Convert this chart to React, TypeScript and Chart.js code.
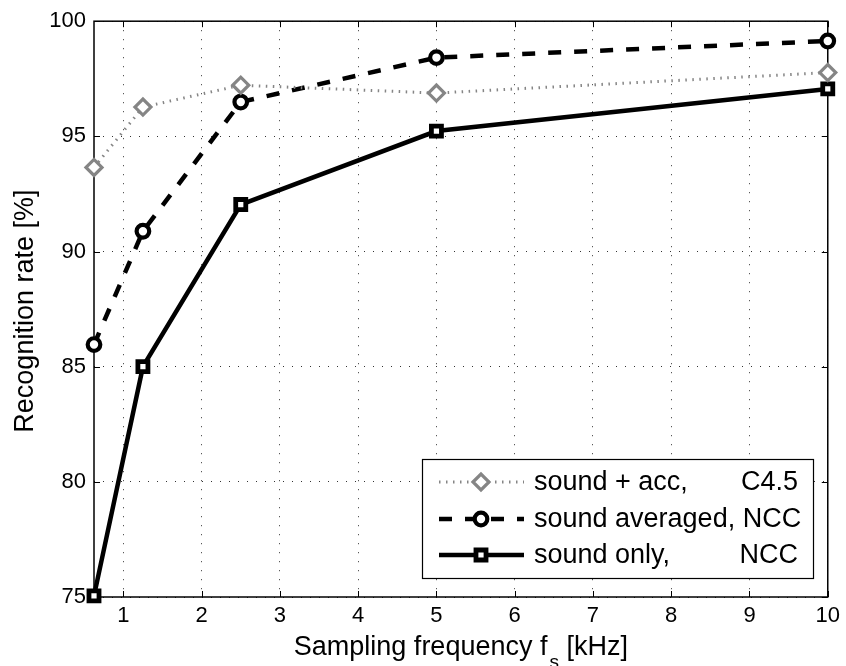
import { useEffect, useRef } from 'react';
import { Chart, registerables } from 'chart.js';

Chart.register(...registerables);

// ---- data ----
const frequenciesKHz = [0.625, 1.25, 2.5, 5, 10];
const soundAccC45 = [93.65, 96.27, 97.22, 96.88, 97.77];
const soundAveragedNCC = [85.96, 90.88, 96.49, 98.42, 99.14];
const soundOnlyNCC = [75.05, 85.0, 92.04, 95.23, 97.06];
const xTickValues = [1, 2, 3, 4, 5, 6, 7, 8, 9, 10];
const yTickValues = [75, 80, 85, 90, 95, 100];
const legendNames = ['sound + acc,', 'sound averaged, NCC', 'sound only,'];
const legendMethods = ['C4.5', '', 'NCC'];

const FONT = "'Liberation Sans', Arial, Helvetica, sans-serif";
const GRAY = '#858585';

const toPoints = (ys: number[]) => frequenciesKHz.map((x, i) => ({ x, y: ys[i] }));

const seriesStyles = [
  { color: GRAY, width: 3, dash: [1.5, 5.5], pointStyle: 'rectRot', radius: 8, pointBorder: 3.2 },
  { color: '#000', width: 4.5, dash: [13, 13], pointStyle: 'circle', radius: 6.3, pointBorder: 4.2 },
  { color: '#000', width: 4.5, dash: [] as number[], pointStyle: 'rect', radius: 7.1, pointBorder: 4.8 },
];

function drawMarker(ctx: CanvasRenderingContext2D, style: string, r: number, x: number, y: number) {
  ctx.beginPath();
  if (style === 'circle') {
    ctx.arc(x, y, r, 0, Math.PI * 2);
  } else if (style === 'rect') {
    const s = Math.SQRT1_2 * r;
    ctx.rect(x - s, y - s, 2 * s, 2 * s);
  } else {
    ctx.moveTo(x - r, y);
    ctx.lineTo(x, y - r);
    ctx.lineTo(x + r, y);
    ctx.lineTo(x, y + r);
    ctx.closePath();
  }
  ctx.fill();
  ctx.stroke();
}

const framePlugin = {
  id: 'frame',
  beforeDatasetsDraw(chart: any) {
    const { ctx, chartArea: a, scales } = chart;
    ctx.save();
    ctx.strokeStyle = '#000';
    ctx.lineWidth = 1.5;
    ctx.strokeRect(a.left, a.top, a.right - a.left, a.bottom - a.top);
    const tl = 6;
    ctx.lineWidth = 1;
    ctx.beginPath();
    for (const v of xTickValues) {
      const px = Math.round(scales.x.getPixelForValue(v)) + 0.5;
      ctx.moveTo(px, a.bottom);
      ctx.lineTo(px, a.bottom - tl);
      ctx.moveTo(px, a.top);
      ctx.lineTo(px, a.top + tl);
    }
    for (const v of yTickValues) {
      const py = Math.round(scales.y.getPixelForValue(v)) + 0.5;
      ctx.moveTo(a.left, py);
      ctx.lineTo(a.left + tl, py);
      ctx.moveTo(a.right, py);
      ctx.lineTo(a.right - tl, py);
    }
    ctx.stroke();
    ctx.restore();
  },
  afterDraw(chart: any) {
    const { ctx, chartArea: a } = chart;
    ctx.save();
    ctx.fillStyle = '#000';
    ctx.textBaseline = 'alphabetic';

    // x axis title with subscript
    const mainFont = `27px ${FONT}`;
    const subFont = `19px ${FONT}`;
    const p1 = 'Sampling frequency f';
    const sub = 's';
    const p2 = ' [kHz]';
    ctx.font = mainFont;
    const w1 = ctx.measureText(p1).width;
    const w2 = ctx.measureText(p2).width;
    ctx.font = subFont;
    const ws = ctx.measureText(sub).width;
    const total = w1 + ws + w2 + 2;
    const cx = (a.left + a.right) / 2;
    const x0 = cx - total / 2;
    const base = 655;
    ctx.textAlign = 'left';
    ctx.font = mainFont;
    ctx.fillText(p1, x0, base);
    ctx.font = subFont;
    ctx.fillText(sub, x0 + w1 + 2, base + 13);
    ctx.font = mainFont;
    ctx.fillText(p2, x0 + w1 + 2 + ws, base);

    // y axis title
    ctx.save();
    ctx.translate(33, (a.top + a.bottom) / 2 + 2);
    ctx.rotate(-Math.PI / 2);
    ctx.textAlign = 'center';
    ctx.font = mainFont;
    ctx.fillText('Recognition rate [%]', 0, 0);
    ctx.restore();

    // legend
    const bx = 422, by = 459, bw = 391, bh = 119;
    ctx.fillStyle = '#fff';
    ctx.fillRect(bx, by, bw, bh);
    ctx.strokeStyle = '#000';
    ctx.lineWidth = 1.2;
    ctx.strokeRect(bx + 0.5, by + 0.5, bw, bh);
    const rows = [482, 519, 555];
    const lx0 = 439, lx1 = 524, mx = 481;
    seriesStyles.forEach((st, i) => {
      const y = rows[i];
      ctx.save();
      ctx.strokeStyle = st.color;
      ctx.lineWidth = st.width;
      ctx.setLineDash(st.dash);
      ctx.beginPath();
      ctx.moveTo(lx0, y);
      ctx.lineTo(lx1, y);
      ctx.stroke();
      ctx.setLineDash([]);
      ctx.lineWidth = st.pointBorder;
      ctx.fillStyle = '#fff';
      drawMarker(ctx, st.pointStyle, st.radius, mx, y);
      ctx.restore();
      ctx.fillStyle = '#000';
      ctx.font = mainFont;
      ctx.textAlign = 'left';
      ctx.fillText(legendNames[i], 534, y + 8);
      if (legendMethods[i]) {
        ctx.textAlign = 'right';
        ctx.fillText(legendMethods[i], 798, y + 8);
      }
    });
    ctx.restore();
  },
};

export default function App() {
  const canvasRef = useRef<HTMLCanvasElement>(null);

  useEffect(() => {
    const canvas = canvasRef.current;
    if (!canvas) return;
    const seriesValues = [soundAccC45, soundAveragedNCC, soundOnlyNCC];
    const labels = ['sound + acc, C4.5', 'sound averaged, NCC', 'sound only, NCC'];
    const chart = new Chart(canvas, {
      type: 'line',
      data: {
        datasets: seriesValues.map((vals, i) => {
          const st = seriesStyles[i];
          return {
            label: labels[i],
            data: toPoints(vals),
            borderColor: st.color,
            borderWidth: st.width,
            borderDash: st.dash,
            pointStyle: st.pointStyle as any,
            pointRadius: st.radius,
            pointBorderWidth: st.pointBorder,
            pointBorderColor: st.color,
            pointBackgroundColor: '#fff',
            fill: false,
            tension: 0,
            clip: false as any,
          };
        }),
      },
      options: {
        responsive: false,
        devicePixelRatio: 1,
        animation: false,
        layout: { padding: { top: 21, right: 13, left: 0, bottom: 0 } },
        plugins: { legend: { display: false }, tooltip: { enabled: false } },
        scales: {
          x: {
            type: 'linear',
            min: 0.625,
            max: 10,
            afterBuildTicks: (s: any) => {
              s.ticks = xTickValues.map((value) => ({ value }));
            },
            afterFit: (s: any) => {
              s.height = 69;
            },
            grid: { color: '#333', lineWidth: 1, drawTicks: false },
            border: { display: false, dash: [1, 8] },
            ticks: {
              padding: 6,
              color: '#000',
              font: { family: FONT, size: 22 },
              maxRotation: 0,
              autoSkip: false,
            },
          },
          y: {
            type: 'linear',
            min: 75,
            max: 100,
            afterBuildTicks: (s: any) => {
              s.ticks = yTickValues.map((value) => ({ value }));
            },
            afterFit: (s: any) => {
              s.width = 94;
            },
            grid: { color: '#333', lineWidth: 1, drawTicks: false },
            border: { display: false, dash: [1, 8] },
            ticks: {
              padding: 8,
              color: '#000',
              font: { family: FONT, size: 22 },
              autoSkip: false,
            },
          },
        },
      },
      plugins: [framePlugin],
    });
    return () => chart.destroy();
  }, []);

  return (
    <div style={{ position: 'fixed', left: 0, top: 0, width: 846, height: 666, background: '#fff' }}>
      <canvas ref={canvasRef} width={846} height={666} />
    </div>
  );
}
